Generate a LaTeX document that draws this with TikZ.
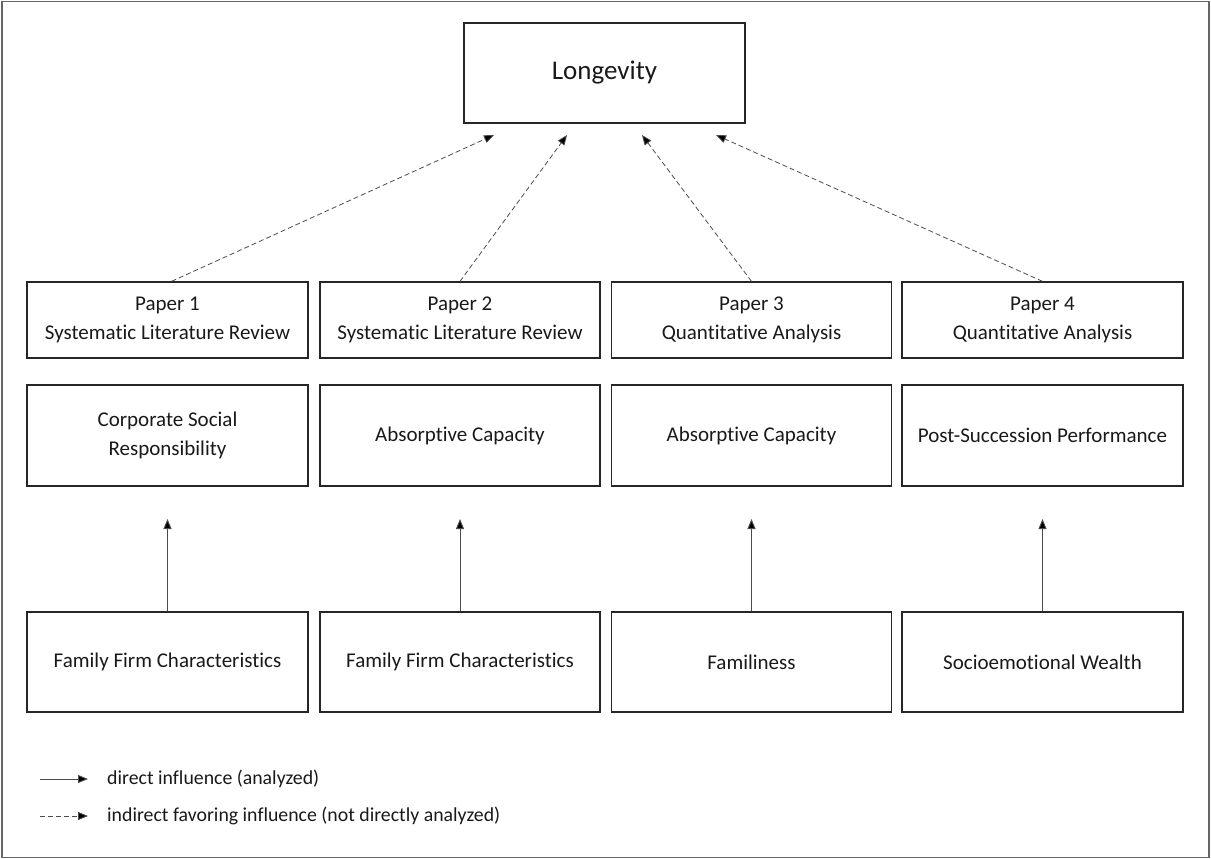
\documentclass[tikz,border=0pt]{standalone}
\usepackage{fontspec}
\setmainfont{Carlito}[Ligatures=NoCommon]
\usetikzlibrary{arrows.meta}
\begin{document}
\begin{tikzpicture}[x=1pt,y=-1pt,
  box/.style={draw=black!85,line width=1.3pt,inner sep=0pt,align=center,text=black!90,font=\fontsize{21}{28.5}\selectfont},
  dashedarrow/.style={draw=black!70,line width=0.8pt,dash pattern=on 5pt off 3pt,-{Triangle[length=10pt,width=8pt,fill=black]}},
  solidarrow/.style={draw=black!70,line width=0.9pt,-{Triangle[length=10pt,width=8pt,fill=black]}},
  legtext/.style={anchor=west,inner sep=0pt,text=black!90,font=\fontsize{19.8}{22}\selectfont}]
\useasboundingbox (0,0) rectangle (1211,859);
\draw[black!60,line width=1.2pt] (2,1.5) rectangle (1209,857.5);
% top
\node[box,minimum width=281pt,minimum height=100pt,font=\fontsize{27}{30}\selectfont] (lon) at (604.5,73) {Longevity};
% row 1
\node[box,minimum width=281pt,minimum height=76pt] (p1) at (167.5,320) {Paper 1\\Systematic Literature Review};
\node[box,minimum width=280pt,minimum height=76pt] (p2) at (460,320) {Paper 2\\Systematic Literature Review};
\node[box,minimum width=280pt,minimum height=76pt] (p3) at (751.5,320) {Paper 3\\Quantitative Analysis};
\node[box,minimum width=281pt,minimum height=76pt] (p4) at (1042.5,320) {Paper 4\\Quantitative Analysis};
% row 2
\node[box,minimum width=281pt,minimum height=101pt] (o1) at (167.5,435.5) {Corporate Social\\Responsibility};
\node[box,minimum width=280pt,minimum height=101pt] (o2) at (460,435.5) {Absorptive Capacity};
\node[box,minimum width=280pt,minimum height=101pt] (o3) at (751.5,435.5) {Absorptive Capacity};
\node[box,minimum width=281pt,minimum height=101pt] (o4) at (1042.5,435.5) {Post-Succession Performance};
% row 3
\node[box,minimum width=281pt,minimum height=100pt] (f1) at (167.5,662) {Family Firm Characteristics};
\node[box,minimum width=280pt,minimum height=100pt] (f2) at (460,662) {Family Firm Characteristics};
\node[box,minimum width=280pt,minimum height=100pt] (f3) at (751.5,662) {Familiness};
\node[box,minimum width=281pt,minimum height=100pt] (f4) at (1042.5,662) {Socioemotional Wealth};
% free ends
\coordinate (t1) at (494,135);
\coordinate (t2) at (567,135);
\coordinate (t3) at (642,135);
\coordinate (t4) at (716,135);
\coordinate (u1) at (f1.north |- 0,519);
\coordinate (u2) at (f2.north |- 0,519);
\coordinate (u3) at (f3.north |- 0,519);
\coordinate (u4) at (f4.north |- 0,519);
% dashed arrows
\draw[dashedarrow] ([xshift=4pt]p1.north) -- (t1);
\draw[dashedarrow] (p2.north) -- (t2);
\draw[dashedarrow] (p3.north) -- (t3);
\draw[dashedarrow] (p4.north) -- (t4);
% solid arrows
\draw[solidarrow] (f1.north) -- (u1);
\draw[solidarrow] (f2.north) -- (u2);
\draw[solidarrow] (f3.north) -- (u3);
\draw[solidarrow] (f4.north) -- (u4);
% legend
\coordinate (l1a) at (40,779);
\coordinate (l1b) at (88,779);
\coordinate (l2a) at (40,816);
\coordinate (l2b) at (88,816);
\draw[solidarrow] (l1a) -- (l1b);
\draw[dashedarrow] (l2a) -- (l2b);
\node[legtext] (lt1) at (107,779) {direct influence (analyzed)};
\node[legtext] (lt2) at (107,816) {indirect favoring influence (not directly analyzed)};
\end{tikzpicture}
\end{document}
